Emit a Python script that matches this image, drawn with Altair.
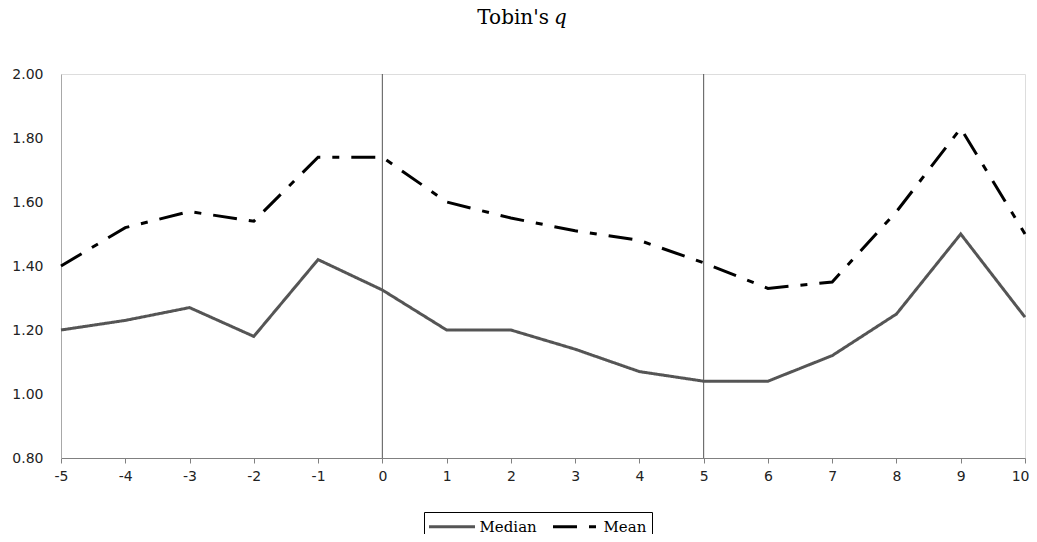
import altair as alt
import pandas as pd

years = list(range(-5, 11))
median_vals = [1.20, 1.23, 1.27, 1.18, 1.42, 1.325, 1.20, 1.20, 1.14, 1.07, 1.04, 1.04, 1.12, 1.25, 1.50, 1.24]
mean_vals = [1.40, 1.52, 1.57, 1.54, 1.74, 1.74, 1.60, 1.55, 1.51, 1.48, 1.41, 1.33, 1.35, 1.57, 1.83, 1.50]
series_names = ["Median", "Mean"]
vlines = [0, 5]
y_ticks = [0.8, 1.0, 1.2, 1.4, 1.6, 1.8, 2.0]
title_main = ["Tobin's"]
title_italic = ["q"]

rows = []
for name, vals in zip(series_names, [median_vals, mean_vals]):
    for yr, v in zip(years, vals):
        rows.append({"year": yr, "value": v, "series": name})
df = pd.DataFrame(rows)

x_enc = alt.X("year:Q",
              scale=alt.Scale(domain=[-5, 10], nice=False, zero=False),
              axis=alt.Axis(values=years, title=None, grid=False, tickSize=5,
                            tickColor="#808080", domainColor="#808080",
                            labelExpr="'' + datum.value",
                            labelAlign={"condition": {"test": "datum.value == 10", "value": "right"}, "value": "center"},
                            labelOffset={"condition": {"test": "datum.value == 10", "value": 4}, "value": 0},
                            labelFont="DejaVu Sans", labelFontSize=14,
                            labelColor="#222", labelPadding=6, labelFlush=False))
y_enc = alt.Y("value:Q",
              scale=alt.Scale(domain=[0.8, 2.0], nice=False, zero=False),
              axis=alt.Axis(values=y_ticks, format=".2f", title=None, grid=False,
                            ticks=False, domainColor="#a8a8a8",
                            labelFont="DejaVu Sans", labelFontSize=14,
                            labelColor="#222", labelPadding=18))

legend_def = alt.Legend(title=None, orient="none", legendX=363, legendY=438,
                        direction="horizontal", symbolType="M-2.875,0H2.875",
                        symbolSize=256, symbolStrokeWidth=3, symbolOffset=13.5,
                        symbolFillColor="transparent",
                        labelFont="DejaVu Serif", labelFontSize=15, labelColor="#000",
                        strokeColor="#000", fillColor="#fff", padding=5,
                        columnPadding=10, labelOffset=18)

rules = alt.Chart(pd.DataFrame({"x": vlines})).mark_rule(color="#555", strokeWidth=1).encode(
    x=alt.X("x:Q", scale=alt.Scale(domain=[-5, 10], nice=False, zero=False))
)

lines = alt.Chart(df).mark_line(strokeWidth=3, strokeCap="butt").encode(
    x=x_enc,
    y=y_enc,
    color=alt.Color("series:N", scale=alt.Scale(domain=series_names, range=["#555555", "#000000"]),
                    legend=legend_def),
    strokeDash=alt.StrokeDash("series:N",
                              scale=alt.Scale(domain=series_names, range=[[1, 0], [24, 12, 7, 12]]),
                              legend=legend_def),
)

t1 = alt.Chart(pd.DataFrame({"t": title_main})).mark_text(
    font="DejaVu Serif", fontSize=20, align="right", baseline="alphabetic", color="#000"
).encode(x=alt.value(488), y=alt.value(-50), text="t:N")
t2 = alt.Chart(pd.DataFrame({"t": title_italic})).mark_text(
    font="DejaVu Serif", fontSize=20, fontStyle="italic", align="left", baseline="alphabetic", color="#000"
).encode(x=alt.value(493), y=alt.value(-50), text="t:N")

chart = alt.layer(rules, lines, t1, t2).properties(
    width=964, height=384,
    autosize=alt.AutoSizeParams(type="none"),
    padding={"left": 53, "top": 66, "right": 4, "bottom": 76},
).configure_view(stroke="#c0c0c0", strokeWidth=1).configure(background="white")

chart.save("out.html", embed_options={"renderer": "svg", "actions": False})
